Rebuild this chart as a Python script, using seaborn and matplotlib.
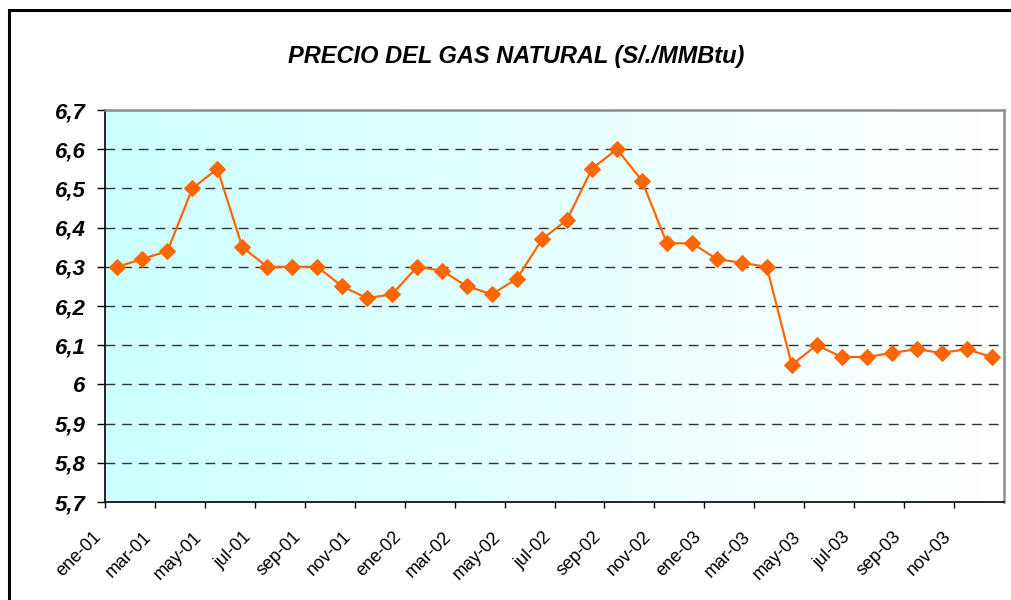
import numpy as np
import pandas as pd
import matplotlib
matplotlib.use("Agg")
import matplotlib.pyplot as plt
import seaborn as sns
from matplotlib.patches import Rectangle

months = ["ene-01", "feb-01", "mar-01", "abr-01", "may-01", "jun-01", "jul-01", "ago-01", "sep-01", "oct-01", "nov-01", "dic-01",
          "ene-02", "feb-02", "mar-02", "abr-02", "may-02", "jun-02", "jul-02", "ago-02", "sep-02", "oct-02", "nov-02", "dic-02",
          "ene-03", "feb-03", "mar-03", "abr-03", "may-03", "jun-03", "jul-03", "ago-03", "sep-03", "oct-03", "nov-03", "dic-03"]
precio = [6.30, 6.32, 6.34, 6.50, 6.55, 6.35, 6.30, 6.30, 6.30, 6.25, 6.22, 6.23,
          6.30, 6.29, 6.25, 6.23, 6.27, 6.37, 6.42, 6.55, 6.60, 6.52, 6.36, 6.36,
          6.32, 6.31, 6.30, 6.05, 6.10, 6.07, 6.07, 6.08, 6.09, 6.08, 6.09, 6.07]
tick_labels = ["ene-01", "mar-01", "may-01", "jul-01", "sep-01", "nov-01",
               "ene-02", "mar-02", "may-02", "jul-02", "sep-02", "nov-02",
               "ene-03", "mar-03", "may-03", "jul-03", "sep-03", "nov-03"]
y_ticks = [5.7, 5.8, 5.9, 6.0, 6.1, 6.2, 6.3, 6.4, 6.5, 6.6, 6.7]
y_labels = ["5,7", "5,8", "5,9", "6", "6,1", "6,2", "6,3", "6,4", "6,5", "6,6", "6,7"]
title = "PRECIO DEL GAS NATURAL (S/./MMBtu)"

df = pd.DataFrame({"idx": np.arange(len(months)), "mes": months, "precio": precio})

sns.set_theme(style="white")
plt.rcParams["font.family"] = ["Liberation Sans", "DejaVu Sans"]
plt.rcParams["text.color"] = "black"
plt.rcParams["xtick.color"] = "black"
plt.rcParams["ytick.color"] = "black"

W, H = 1011, 600
fig = plt.figure(figsize=(W / 100, H / 100), dpi=100)
fig.patch.set_facecolor("white")

L, R, T, B = 105, 1004, 110, 502
ax = fig.add_axes([L / W, 1 - B / H, (R - L) / W, (B - T) / H])

# gradient background
grad = np.linspace(0, 1, 256)[None, :]
cmap = matplotlib.colors.LinearSegmentedColormap.from_list("g", ["#CCFFFF", "#FFFFFF"])
ax.imshow(grad, aspect="auto", cmap=cmap, extent=[-0.5, len(months) - 0.5, 5.7, 6.7],
          zorder=0, interpolation="bilinear")

sns.lineplot(data=df, x="idx", y="precio", ax=ax, color="#FF6600", linewidth=1.6,
             marker="D", markersize=8, markeredgecolor="#FF6600", zorder=3)

ax.set_xlim(-0.5, len(months) - 0.5)
ax.set_ylim(5.7, 6.7)
ax.set_yticks(y_ticks)
ax.set_yticklabels(y_labels, fontsize=16, fontweight="bold", fontstyle="italic", color="black")
xt = np.arange(len(tick_labels)) * 2 - 0.5
ax.set_xticks(xt)
ax.set_xticklabels(tick_labels, rotation=45, ha="right", fontsize=13, color="black")
ax.set_xlabel("")
ax.set_ylabel("")

for y in y_ticks[1:-1]:
    ax.axhline(y, color="#333333", linewidth=1.0, linestyle=(0, (7, 5)), zorder=1)

ax.tick_params(axis="y", direction="out", length=6, width=1, color="black", pad=8, left=True)
ax.tick_params(axis="x", direction="out", length=4, width=1, color="black", pad=15, bottom=True)

for s in ["left", "bottom"]:
    ax.spines[s].set_color("black")
    ax.spines[s].set_linewidth(1.2)
for s in ["top", "right"]:
    ax.spines[s].set_color("#8c8c8c")
    ax.spines[s].set_linewidth(1.8)
ax.grid(False)

fig.text(516 / W, 1 - 57 / H, title, ha="center", va="center", fontsize=17,
         fontweight="bold", fontstyle="italic", color="black")

# outer chart border (only top and left visible)
fig.patches.append(Rectangle((9 / W, -0.1), 1.2, 1 - 10 / H + 0.1, transform=fig.transFigure,
                             fill=False, edgecolor="black", linewidth=2.2, zorder=10))

fig.savefig("out.png", dpi=100)
